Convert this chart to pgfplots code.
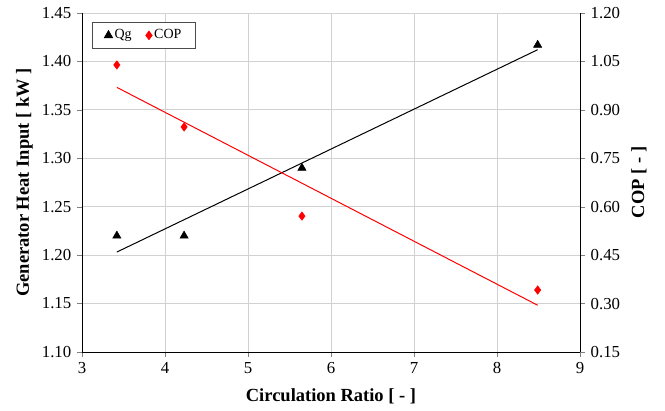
\documentclass[border=0pt]{standalone}
\usepackage{pgfplots}
\pgfplotsset{compat=1.18}
\usepackage{fontspec}
\setmainfont{Liberation Serif}
\definecolor{gridgray}{RGB}{210,210,210}
\begin{document}
\fontsize{16.5}{19}\selectfont
\begin{tikzpicture}
\pgfplotsset{
  common/.style={
    scale only axis, width=498pt, height=339pt,
    at={(0,0)}, anchor=south west,
    xmin=3, xmax=9,
    tick align=outside, major tick length=5pt,
    /pgf/number format/assume math mode=true,
    tick label style={font=\fontsize{16.8}{19}\selectfont},
    label style={font=\fontsize{18.5}{21}\selectfont\bfseries},
    axis line style={line width=0.9pt},
  }
}
\begin{axis}[common,
  ymin=1.10, ymax=1.45,
  axis y line*=left, axis x line*=bottom,
  xtick={3,4,...,9},
  ytick={1.10,1.15,...,1.46},
  yticklabel style={/pgf/number format/fixed, /pgf/number format/fixed zerofill, /pgf/number format/precision=2},
  grid=major, major grid style={gridgray, line width=0.8pt},
  xlabel={Circulation Ratio [ - ]},
  ylabel={Generator Heat Input [ kW ]},
  xlabel style={yshift=-3pt},
  ylabel style={yshift=-2pt},
  legend columns=2,
  legend style={at={(rel axis cs:0.02,0.973)}, anchor=north west, draw=black!70, line width=0.7pt,
    font=\fontsize{14}{16}\selectfont, inner xsep=12pt, inner ysep=5pt,
    /tikz/every even column/.append style={column sep=12pt}},
  legend image code/.code={\draw[#1] plot coordinates {(0pt,0pt)};},
]
\addplot[only marks, mark=triangle*, mark size=4.8pt, black] coordinates {
  (3.42,1.220) (4.23,1.220) (5.65,1.290) (8.49,1.417)
};
\addlegendentry{Qg}
\addlegendimage{only marks, mark=diamond*, mark size=4.3pt, red}
\addlegendentry{COP}
\addplot[black, line width=1pt, forget plot] coordinates {(3.42,1.2032) (8.49,1.4121)};
\end{axis}
\begin{axis}[common,
  ymin=0.15, ymax=1.20,
  axis y line*=right, axis x line=none,
  ytick={0.15,0.30,...,1.21},
  yticklabel style={/pgf/number format/fixed, /pgf/number format/fixed zerofill, /pgf/number format/precision=2},
  ylabel={COP [ - ]},
  ylabel style={yshift=0pt},
]
\addplot[only marks, mark=diamond*, mark size=4.3pt, red] coordinates {
  (3.42,1.039) (4.23,0.847) (5.65,0.571) (8.49,0.342)
};
\addplot[red, line width=1pt] coordinates {(3.42,0.9696) (8.49,0.2948)};
\end{axis}
\pgfresetboundingbox
\path (-82pt,-59pt) rectangle (583pt,352pt);
\end{tikzpicture}
\end{document}
